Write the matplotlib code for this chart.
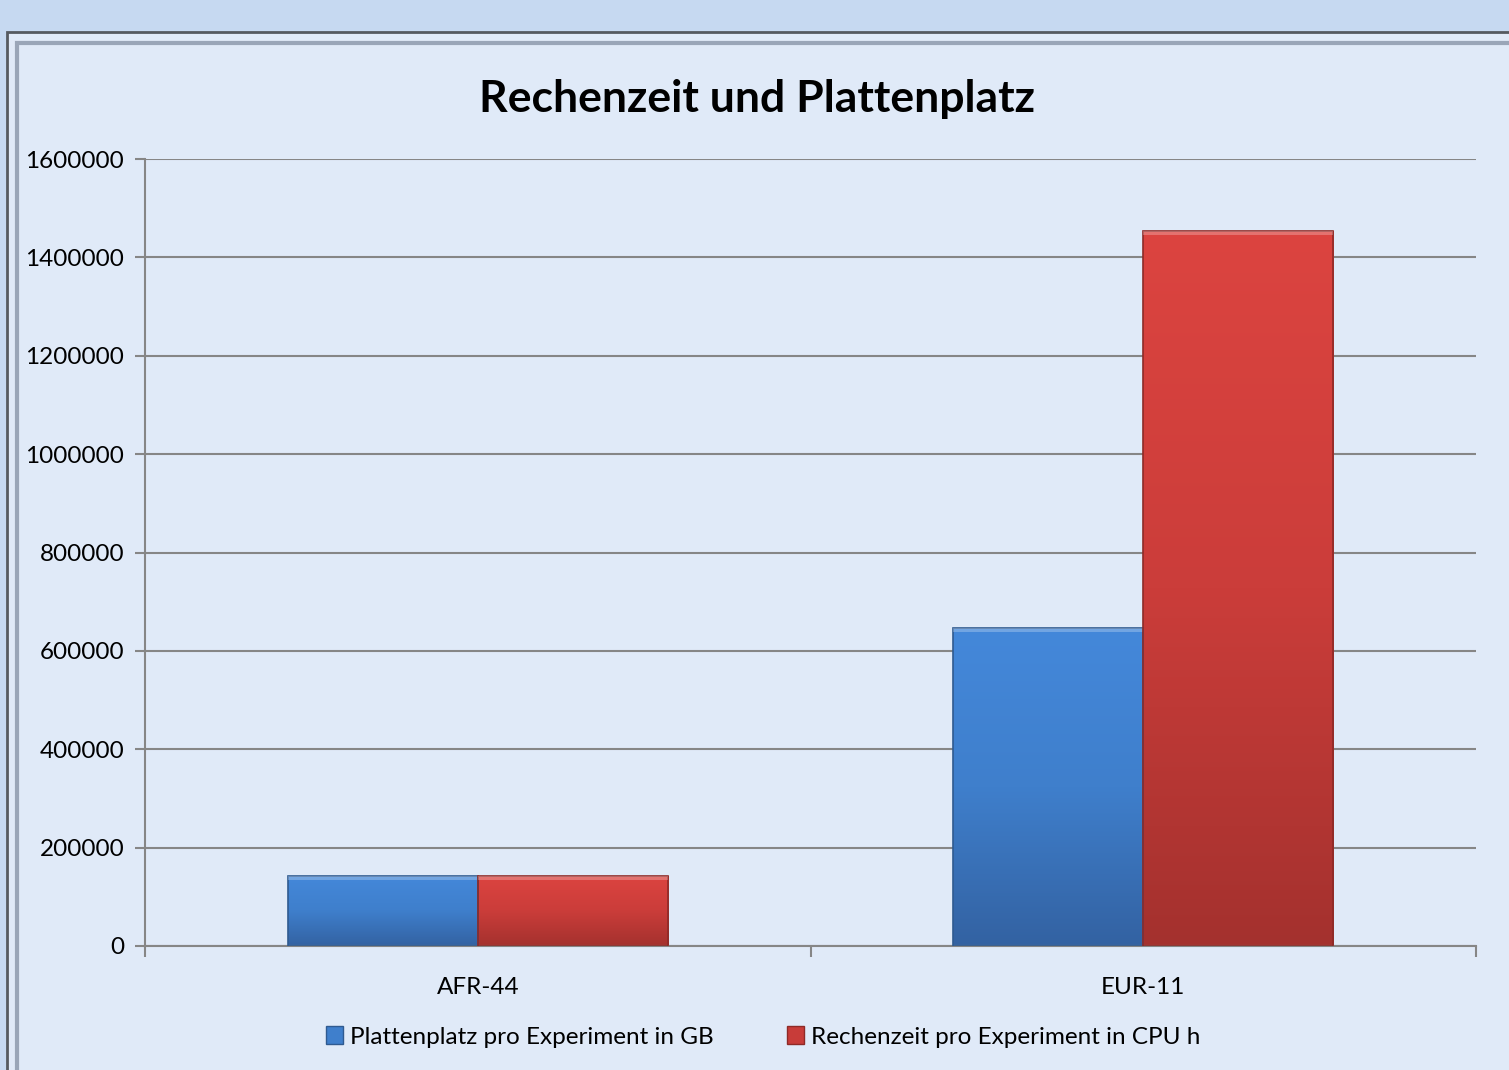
import numpy as np
import matplotlib.pyplot as plt
from matplotlib.patches import Rectangle, Patch
from matplotlib.colors import LinearSegmentedColormap

categories = ["AFR-44", "EUR-11"]
platte = [143000, 646000]
rechen = [143000, 1454000]
series_names = ["Plattenplatz pro Experiment in GB",
                "Rechenzeit pro Experiment in CPU h"]
yticks = [0, 200000, 400000, 600000, 800000, 1000000, 1200000, 1400000, 1600000]

plt.rcParams['font.family'] = ['Lato', 'DejaVu Sans']

W, H = 1509, 1070
fig = plt.figure(figsize=(W / 100, H / 100), dpi=100, facecolor='#c6d9f1')

# chart frame (behind the axes)
fig.patches.append(Rectangle((7 / W, -0.1), 1.2, (H - 32) / H + 0.1,
                             transform=fig.transFigure, facecolor='#e0eaf8',
                             edgecolor='#555a60', linewidth=2, zorder=-2))
fig.patches.append(Rectangle((17 / W, -0.1), 1.2, (H - 43) / H + 0.1,
                             transform=fig.transFigure, facecolor='none',
                             edgecolor='#9aa6b8', linewidth=3, zorder=-1))

ax = fig.add_axes([145 / W, 124 / H, (1476 - 145) / W, 787 / H])
ax.set_facecolor('none')

x = np.arange(len(categories))
w = 1 / 3.5
blue_cmap = LinearSegmentedColormap.from_list('b', ['#3362a2', '#3f7fcc', '#4488da'])
red_cmap = LinearSegmentedColormap.from_list('r', ['#a4312e', '#cb3d3a', '#dc4440'])

def draw_bars(xs, vals, cmap, edge):
    bars = ax.bar(xs, vals, w, color='none', edgecolor=edge, linewidth=1.2, zorder=3)
    grad = np.linspace(0, 1, 256).reshape(-1, 1)
    for b in bars:
        x0, y0 = b.get_x(), b.get_y()
        bw, bh = b.get_width(), b.get_height()
        im = ax.imshow(grad, cmap=cmap, origin='lower', aspect='auto',
                       extent=(x0, x0 + bw, y0, y0 + bh), zorder=2)
        im.set_clip_path(b)
        # bevel highlight at top
        ax.add_patch(Rectangle((x0, y0 + bh - 8000), bw, 8000,
                               facecolor='white', alpha=0.25, linewidth=0, zorder=3))
    return bars

draw_bars(x - w / 2, platte, blue_cmap, '#2f5a90')
draw_bars(x + w / 2, rechen, red_cmap, '#8e2a27')

ax.set_xlim(-0.5, 1.5)
ax.set_ylim(0, 1600000)
ax.set_yticks(yticks)
ax.set_yticklabels([str(v) for v in yticks], fontsize=17.5)
ax.set_xticks(x)
ax.set_xticklabels(categories, fontsize=17.5)
ax.set_xticks([-0.5, 0.5, 1.5], minor=True)
ax.tick_params(axis='x', which='major', length=0, pad=22)
ax.tick_params(axis='x', which='minor', length=8, width=1.5, color='#868686')
ax.tick_params(axis='y', length=7, width=1.5, color='#868686', pad=8)
ax.grid(axis='y', color='#868686', linewidth=1.5, zorder=1)
ax.set_axisbelow(True)
for s in ['top', 'right']:
    ax.spines[s].set_visible(False)
for s in ['left', 'bottom']:
    ax.spines[s].set_color('#868686')
    ax.spines[s].set_linewidth(1.5)

fig.text(757 / W, 1 - 99 / H, "Rechenzeit und Plattenplatz", ha='center', va='center',
         fontsize=32, fontweight='bold')

handles = [Patch(facecolor='#3f7fcc', edgecolor='#2f5a90'),
           Patch(facecolor='#c83c39', edgecolor='#8e2a27')]
fig.legend(handles, series_names, loc='center', bbox_to_anchor=(763 / W, 1 - 1037 / H),
           ncol=2, frameon=False, fontsize=17.5, handlelength=0.7, handleheight=0.7,
           handletextpad=0.3, columnspacing=3.0)

fig.savefig('out.png', dpi=100, facecolor=fig.get_facecolor())
